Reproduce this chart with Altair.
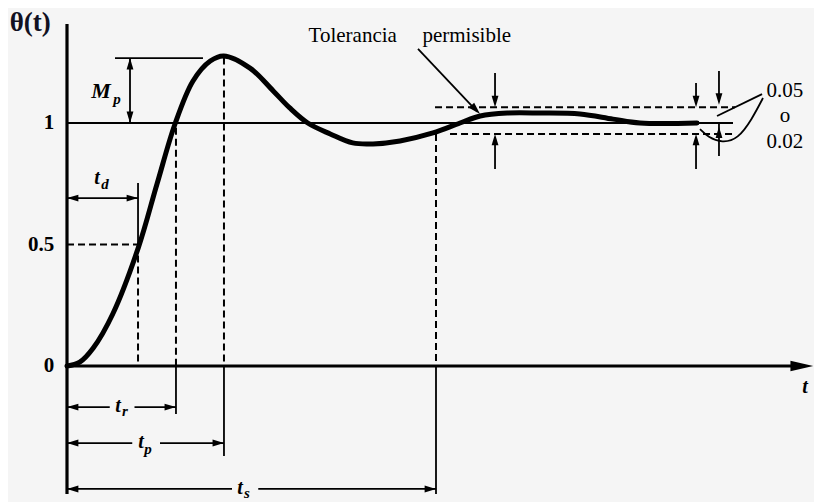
import altair as alt
import pandas as pd

# ---------------- scale set-up (data units) ----------------
W, H = 806, 485
PX_T, PX_V = 75.0, 243.0
T_MIN = -59 / PX_T
V_MAX = 357 / PX_V
X_DOM = [T_MIN, T_MIN + W / PX_T]
Y_DOM = [V_MAX - H / PX_V, V_MAX]

# ---------------- step response ----------------
curve_t = [0.0, 0.17, 0.35, 0.61, 0.95, 1.20, 1.44, 1.68, 1.91, 2.09, 2.44, 2.75,
           2.97, 3.21, 3.51, 3.81, 4.08, 4.44, 4.88, 5.24, 5.51, 5.87, 6.31, 6.84,
           7.28, 7.64, 8.40]
curve_v = [0.0, 0.016, 0.074, 0.214, 0.486, 0.749, 0.996, 1.173, 1.255, 1.276, 1.226,
           1.132, 1.062, 1.0, 0.955, 0.918, 0.914, 0.926, 0.959, 1.0, 1.029, 1.041,
           1.041, 1.037, 1.016, 1.0, 1.0]

# characteristic times
t_d, t_r, t_p, t_s = 0.947, 1.453, 2.093, 4.92
peak_v = 1.27
tol_hi, tol_lo = 1.065, 0.955
t_end_tol = 8.907

# ---------------- line segments (t1, v1, t2, v2) ----------------
axes_segments = [
    (0.0, Y_DOM[0], 0.0, 1.407),          # vertical axis
    (0.0, 0.0, 9.70, 0.0),                # time axis
]
thin_segments = [
    (0.0, 1.0, 8.88, 1.0),                # reference value 1
    (0.64, 1.267, 1.813, 1.267),          # peak level
    (0.84, 1.267, 0.84, 1.0),             # Mp shaft
    (t_d, 0.753, t_d, 0.5),               # td tick
    (0.0, 0.691, t_d, 0.691),             # td arrow
    (t_r, 0.0, t_r, -0.198),
    (0.0, -0.169, 0.57, -0.169), (0.90, -0.169, t_r, -0.169),
    (t_p, 0.0, t_p, -0.37),
    (0.0, -0.317, 0.87, -0.317), (1.24, -0.317, t_p, -0.317),
    (t_s, 0.0, t_s, Y_DOM[0]),
    (0.0, -0.506, 2.20, -0.506), (2.55, -0.506, t_s, -0.506),
    (5.707, 1.206, 5.707, 1.08), (5.707, 0.811, 5.707, 0.94),
    (8.387, 1.165, 8.387, 1.08), (8.387, 0.811, 8.387, 0.94),
    (8.693, 1.214, 8.693, 1.09), (8.693, 0.864, 8.693, 1.0),
    (4.68, 1.305, 5.47, 1.047),           # "Tolerancia permisible" leader
    (9.267, 1.119, 8.667, 1.029),         # 0.05 leader
]
dashed_segments = [
    (0.0, 0.5, t_d, 0.5),
    (t_d, 0.5, t_d, 0.0),
    (t_r, 0.98, t_r, 0.0),
    (t_p, peak_v, t_p, 0.0),
    (t_s, tol_lo, t_s, 0.0),
    (4.907, tol_hi, t_end_tol, tol_hi),
    (5.107, tol_lo, t_end_tol, tol_lo),
]
# curved leader to 0.02
hook_t = [9.28, 9.133, 8.947, 8.733, 8.547, 8.44]
hook_v = [1.103, 1.016, 0.934, 0.918, 0.942, 0.975]

# ---------------- arrowheads (t, v, direction) ----------------
arrowheads = [
    (0.84, 1.267, "up"), (0.84, 1.0, "down"),
    (0.0, 0.691, "left"), (t_d, 0.691, "right"),
    (0.0, -0.169, "left"), (t_r, -0.169, "right"),
    (0.0, -0.317, "left"), (t_p, -0.317, "right"),
    (0.0, -0.506, "left"), (t_s, -0.506, "right"),
    (5.707, tol_hi, "down"), (5.707, tol_lo, "up"),
    (8.387, tol_hi, "down"), (8.387, tol_lo, "up"),
    (8.693, 1.075, "down"), (8.693, 0.985, "up"),
]
big_arrow = [(9.95, 0.0)]
slanted_arrow = [(5.507, 1.037)]

# ---------------- texts ----------------
tick_labels = [("1", -0.17, 1.0), ("0.5", -0.17, 0.5), ("0", -0.17, 0.0)]
italic_labels = [  # text, t, v, size
    ("M", 0.453, 1.132, 22), ("p", 0.667, 1.10, 15),
    ("t", 0.40, 0.772, 20), ("d", 0.507, 0.748, 15),
    ("t", 0.68, -0.165, 20), ("r", 0.773, -0.185, 15),
    ("t", 0.987, -0.313, 20), ("p", 1.08, -0.342, 15),
    ("t", 2.307, -0.502, 20), ("s", 2.40, -0.523, 15),
    ("t", 9.84, -0.085, 20),
]
plain_labels = [
    ("Tolerancia", 3.81, 1.358, 21), ("permisible", 5.33, 1.358, 21),
    ("0.05", 9.573, 1.130, 21), ("o", 9.573, 1.029, 21), ("0.02", 9.573, 0.922, 21),
]
title_label = [("θ(t)", -0.49, 1.412)]

# ---------------- build ----------------
XS = alt.Scale(domain=X_DOM, nice=False, zero=False)
YS = alt.Scale(domain=Y_DOM, nice=False, zero=False)


def seg_df(segs):
    return pd.DataFrame(segs, columns=["t", "v", "t2", "v2"])


def rules(segs, **kw):
    return alt.Chart(seg_df(segs)).mark_rule(color="black", **kw).encode(
        x=alt.X("t:Q", scale=XS, axis=None), y=alt.Y("v:Q", scale=YS, axis=None),
        x2="t2:Q", y2="v2:Q")


curve = alt.Chart(pd.DataFrame({"t": curve_t, "v": curve_v})).mark_line(
    color="black", strokeWidth=5, interpolate="catmull-rom", strokeCap="round").encode(
    x=alt.X("t:Q", scale=XS, axis=None), y=alt.Y("v:Q", scale=YS, axis=None))

hook = alt.Chart(pd.DataFrame({"t": hook_t, "v": hook_v, "o": range(len(hook_t))})).mark_line(
    color="black", strokeWidth=1.8, interpolate="basis").encode(
    x=alt.X("t:Q", scale=XS, axis=None), y=alt.Y("v:Q", scale=YS, axis=None), order="o:Q")

PATHS = {
    "right": "M0,0L-2,-0.6L-2,0.6Z",
    "left": "M0,0L2,-0.6L2,0.6Z",
    "up": "M0,0L-0.6,2L0.6,2Z",
    "down": "M0,0L-0.6,-2L0.6,-2Z",
}
heads = alt.Chart(pd.DataFrame(arrowheads, columns=["t", "v", "d"])).mark_point(
    filled=True, color="black", opacity=1, size=130, strokeWidth=0).encode(
    x=alt.X("t:Q", scale=XS, axis=None), y=alt.Y("v:Q", scale=YS, axis=None),
    shape=alt.Shape("d:N", scale=alt.Scale(domain=list(PATHS.keys()),
                                           range=list(PATHS.values())), legend=None))

big = alt.Chart(pd.DataFrame(big_arrow, columns=["t", "v"])).mark_point(
    filled=True, color="black", opacity=1, size=520, strokeWidth=0,
    shape="M0,0L-2,-0.45L-2,0.45Z").encode(
    x=alt.X("t:Q", scale=XS, axis=None), y=alt.Y("v:Q", scale=YS, axis=None))

slant = alt.Chart(pd.DataFrame(slanted_arrow, columns=["t", "v"])).mark_point(
    filled=True, color="black", opacity=1, size=150, strokeWidth=0, angle=136,
    shape="M0,0L-0.6,2L0.6,2Z").encode(
    x=alt.X("t:Q", scale=XS, axis=None), y=alt.Y("v:Q", scale=YS, axis=None))

SERIF = "Liberation Serif"

ticks = alt.Chart(pd.DataFrame(tick_labels, columns=["txt", "t", "v"])).mark_text(
    font=SERIF, fontSize=21, fontWeight="bold", align="right", baseline="middle",
    color="black").encode(
    x=alt.X("t:Q", scale=XS, axis=None), y=alt.Y("v:Q", scale=YS, axis=None), text="txt:N")

italics = alt.Chart(pd.DataFrame(italic_labels, columns=["txt", "t", "v", "fs"])).mark_text(
    font=SERIF, fontWeight="bold", fontStyle="italic", align="center", baseline="middle",
    color="black").encode(
    x=alt.X("t:Q", scale=XS, axis=None), y=alt.Y("v:Q", scale=YS, axis=None),
    text="txt:N", size=alt.Size("fs:Q", scale=None, legend=None))

plains = alt.Chart(pd.DataFrame(plain_labels, columns=["txt", "t", "v", "fs"])).mark_text(
    font=SERIF, align="center", baseline="middle", color="black").encode(
    x=alt.X("t:Q", scale=XS, axis=None), y=alt.Y("v:Q", scale=YS, axis=None),
    text="txt:N", size=alt.Size("fs:Q", scale=None, legend=None))

title = alt.Chart(pd.DataFrame(title_label, columns=["txt", "t", "v"])).mark_text(
    font=SERIF, fontSize=27, fontWeight="bold", align="center", baseline="middle",
    color="#111122").encode(
    x=alt.X("t:Q", scale=XS, axis=None), y=alt.Y("v:Q", scale=YS, axis=None), text="txt:N")

chart = alt.layer(
    rules(dashed_segments, strokeWidth=2, strokeDash=[7, 4]),
    rules(thin_segments, strokeWidth=1.8),
    rules(axes_segments, strokeWidth=3.2),
    curve, hook, heads, big, slant, ticks, italics, plains, title,
).properties(
    width=W, height=H, padding=0, background="#f5f5f5"
).configure_view(stroke=None)

chart.save("out.html", embed_options={"renderer": "svg", "actions": False})
